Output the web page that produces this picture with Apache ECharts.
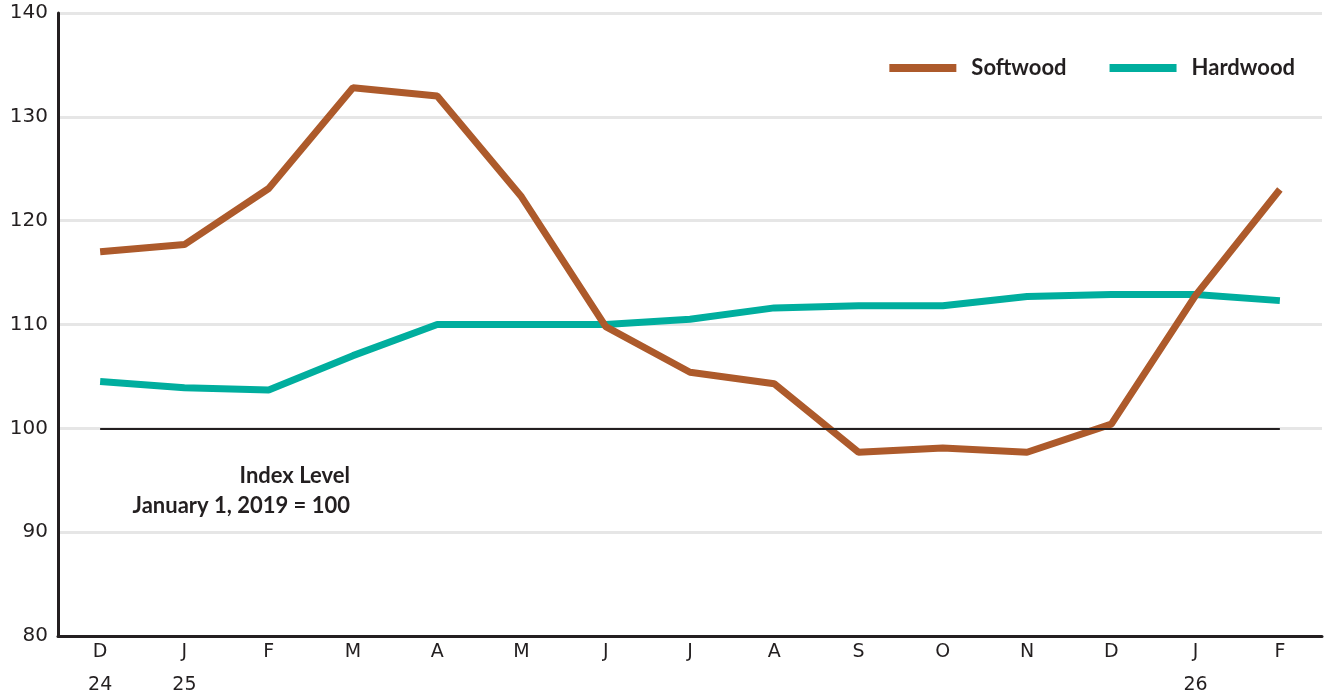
<!DOCTYPE html>
<html>
<head>
<meta charset="utf-8">
<script src="https://cdn.jsdelivr.net/npm/echarts@6/dist/echarts.min.js"></script>
<style>
  html, body { margin: 0; padding: 0; background: #fff; }
  #chart { width: 1330px; height: 692px; }
</style>
</head>
<body>
<div id="chart"></div>
<script>
// months Dec 2024 .. Feb 2026
var months = ['D\n24', 'J\n25', 'F', 'M', 'A', 'M', 'J', 'J', 'A', 'S', 'O', 'N', 'D', 'J\n26', 'F']
var softwood = [117.0, 117.7, 123.1, 132.8, 132.0, 122.3, 109.8, 105.4, 104.3, 97.7, 98.1, 97.7, 100.4, 112.8, 123.0]
var hardwood = [104.5, 103.9, 103.7, 107.0, 110.0, 110.0, 110.0, 110.5, 111.6, 111.8, 111.8, 112.7, 112.9, 112.9, 112.3]
var yTicks = [80, 90, 100, 110, 120, 130, 140]

var chart = echarts.init(document.getElementById('chart'))

var option = {
  animation: false,
  grid: {
    left: 58,
    right: 8,
    top: 13,
    bottom: 56,
    outerBoundsMode: 'none',
    containLabel: false
  },
  legend: {
    data: ['Softwood', 'Hardwood'],
    right: 30,
    top: 52,
    icon: 'rect',
    itemWidth: 67,
    itemHeight: 8,
    itemGap: 43,
    textStyle: {
      fontFamily: 'Lato',
      fontWeight: 'bold',
      fontSize: 22,
      color: '#231f20',
      padding: [0, 0, 0, 10]
    }
  },
  xAxis: {
    type: 'category',
    data: months,
    boundaryGap: true,
    axisLine: { lineStyle: { color: '#231f20', width: 3 } },
    axisTick: {
      alignWithLabel: true,
      inside: true,
      length: 9,
      lineStyle: { color: '#231f20', width: 2 }
    },
    axisLabel: {
      fontFamily: 'DejaVu Sans',
      fontSize: 19,
      color: '#231f20',
      lineHeight: 33,
      margin: 0,
      verticalAlign: 'top'
    }
  },
  yAxis: {
    type: 'value',
    min: yTicks[0],
    max: yTicks[yTicks.length - 1],
    interval: 10,
    axisLine: { show: true, lineStyle: { color: '#231f20', width: 3 } },
    axisTick: { show: false },
    axisLabel: {
      fontFamily: 'DejaVu Sans',
      fontSize: 20,
      color: '#231f20',
      margin: 10
    },
    splitLine: { lineStyle: { color: '#e6e6e6', width: 3 } }
  },
  graphic: [
    {
      type: 'text',
      right: 1330 - 350,
      top: 465,
      style: {
        text: 'Index Level',
        fontFamily: 'Lato',
        fontWeight: 'bold',
        fontSize: 22,
        fill: '#231f20',
        align: 'right'
      }
    },
    {
      type: 'text',
      right: 1330 - 350,
      top: 495,
      style: {
        text: 'January 1, 2019 = 100',
        fontFamily: 'Lato',
        fontWeight: 'bold',
        fontSize: 22,
        fill: '#231f20',
        align: 'right'
      }
    }
  ],
  series: [
    {
      name: 'Hardwood',
      type: 'line',
      data: hardwood,
      symbol: 'none',
      z: 3,
      lineStyle: { color: '#00ae9e', width: 7 },
      itemStyle: { color: '#00ae9e' },
      markLine: {
        silent: true,
        symbol: 'none',
        label: { show: false },
        lineStyle: { color: '#231f20', width: 2, type: 'solid' },
        data: [[
          { coord: [0, 100] },
          { coord: [months.length - 1, 100] }
        ]]
      }
    },
    {
      name: 'Softwood',
      type: 'line',
      data: softwood,
      symbol: 'none',
      z: 4,
      lineStyle: { color: '#ad5a2b', width: 7 },
      itemStyle: { color: '#ad5a2b' }
    }
  ]
}

chart.setOption(option)
</script>
</body>
</html>
